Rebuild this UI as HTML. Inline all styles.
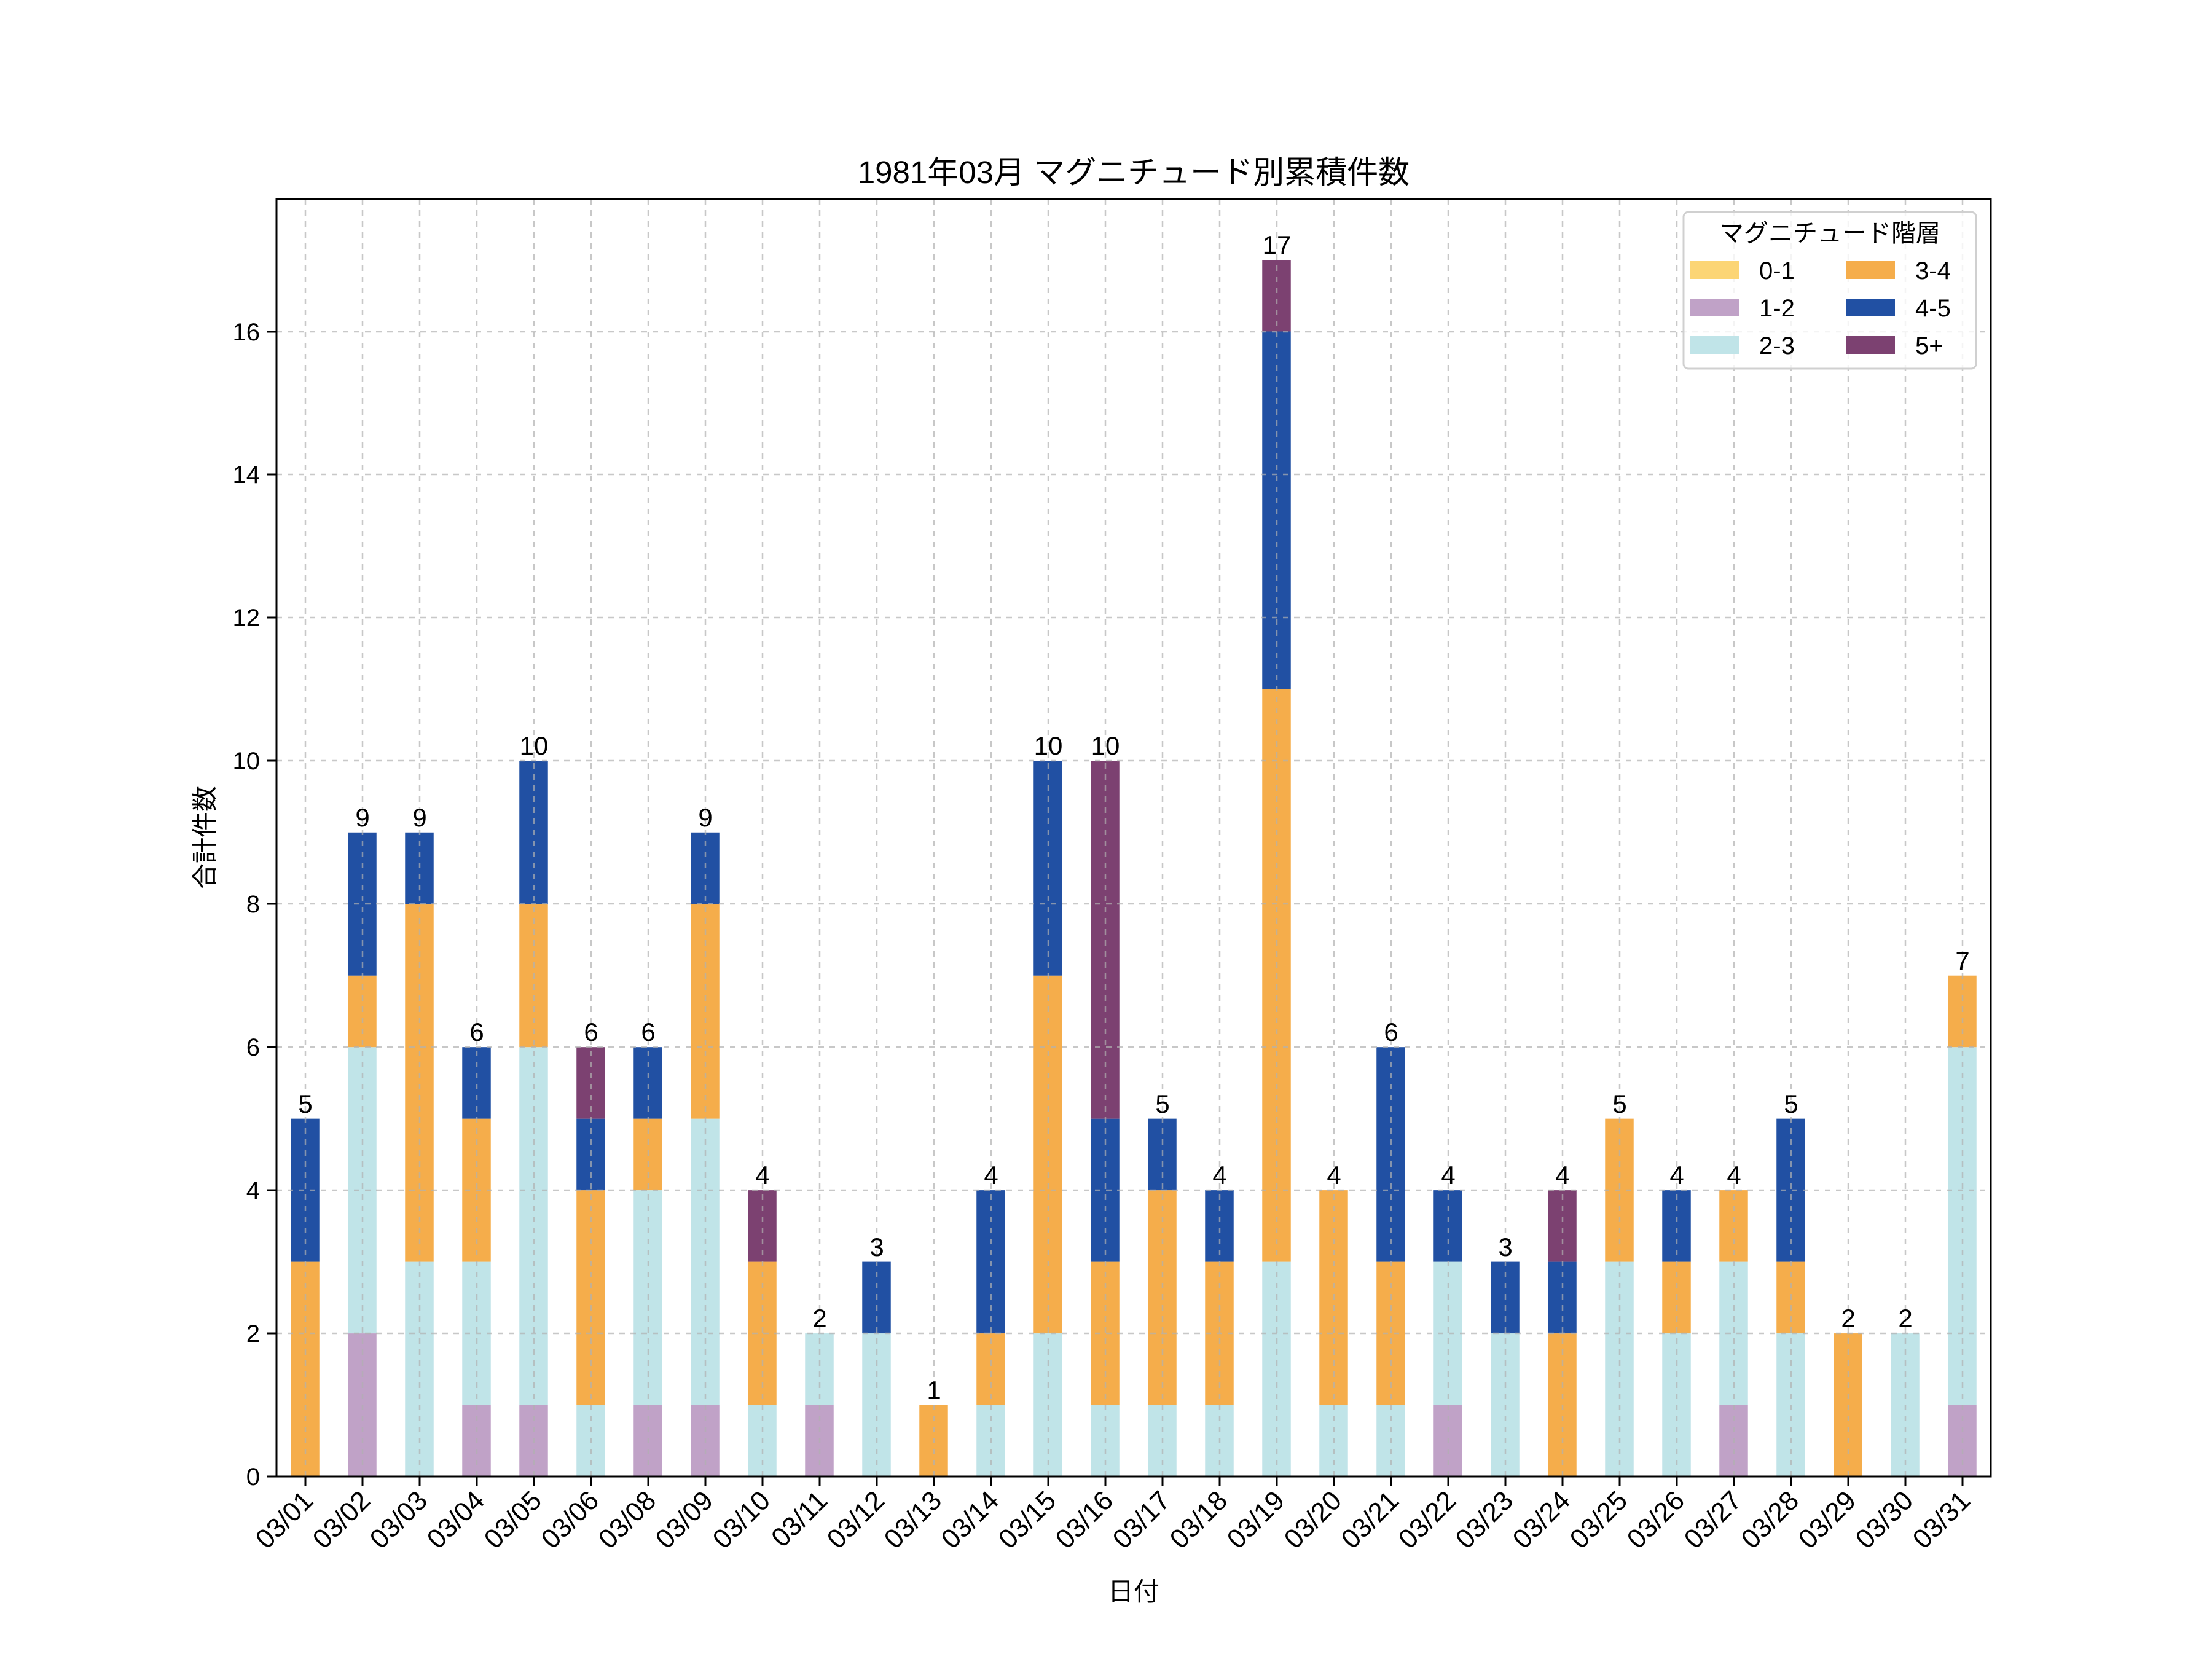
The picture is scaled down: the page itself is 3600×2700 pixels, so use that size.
<!DOCTYPE html>
<html><head><meta charset="utf-8"><style>
html,body{margin:0;padding:0;background:#fff}
svg{display:block}
text{font-family:"Liberation Sans","Noto Sans CJK JP",sans-serif;fill:#000}
</style></head><body>
<svg width="3600" height="2700" viewBox="0 0 3600 2700" xmlns="http://www.w3.org/2000/svg">
<rect width="3600" height="2700" fill="#fff"/>
<g transform="translate(450,2403) scale(93,-116.47)">
<rect x="0.25" y="0" width="0.5" height="3" fill="#F5AD4B"/><rect x="0.25" y="3" width="0.5" height="2" fill="#2150A3"/>
<rect x="1.25" y="0" width="0.5" height="2" fill="#C0A2C7"/><rect x="1.25" y="2" width="0.5" height="4" fill="#C0E4E8"/><rect x="1.25" y="6" width="0.5" height="1" fill="#F5AD4B"/><rect x="1.25" y="7" width="0.5" height="2" fill="#2150A3"/>
<rect x="2.25" y="0" width="0.5" height="3" fill="#C0E4E8"/><rect x="2.25" y="3" width="0.5" height="5" fill="#F5AD4B"/><rect x="2.25" y="8" width="0.5" height="1" fill="#2150A3"/>
<rect x="3.25" y="0" width="0.5" height="1" fill="#C0A2C7"/><rect x="3.25" y="1" width="0.5" height="2" fill="#C0E4E8"/><rect x="3.25" y="3" width="0.5" height="2" fill="#F5AD4B"/><rect x="3.25" y="5" width="0.5" height="1" fill="#2150A3"/>
<rect x="4.25" y="0" width="0.5" height="1" fill="#C0A2C7"/><rect x="4.25" y="1" width="0.5" height="5" fill="#C0E4E8"/><rect x="4.25" y="6" width="0.5" height="2" fill="#F5AD4B"/><rect x="4.25" y="8" width="0.5" height="2" fill="#2150A3"/>
<rect x="5.25" y="0" width="0.5" height="1" fill="#C0E4E8"/><rect x="5.25" y="1" width="0.5" height="3" fill="#F5AD4B"/><rect x="5.25" y="4" width="0.5" height="1" fill="#2150A3"/><rect x="5.25" y="5" width="0.5" height="1" fill="#7C4171"/>
<rect x="6.25" y="0" width="0.5" height="1" fill="#C0A2C7"/><rect x="6.25" y="1" width="0.5" height="3" fill="#C0E4E8"/><rect x="6.25" y="4" width="0.5" height="1" fill="#F5AD4B"/><rect x="6.25" y="5" width="0.5" height="1" fill="#2150A3"/>
<rect x="7.25" y="0" width="0.5" height="1" fill="#C0A2C7"/><rect x="7.25" y="1" width="0.5" height="4" fill="#C0E4E8"/><rect x="7.25" y="5" width="0.5" height="3" fill="#F5AD4B"/><rect x="7.25" y="8" width="0.5" height="1" fill="#2150A3"/>
<rect x="8.25" y="0" width="0.5" height="1" fill="#C0E4E8"/><rect x="8.25" y="1" width="0.5" height="2" fill="#F5AD4B"/><rect x="8.25" y="3" width="0.5" height="1" fill="#7C4171"/>
<rect x="9.25" y="0" width="0.5" height="1" fill="#C0A2C7"/><rect x="9.25" y="1" width="0.5" height="1" fill="#C0E4E8"/>
<rect x="10.25" y="0" width="0.5" height="2" fill="#C0E4E8"/><rect x="10.25" y="2" width="0.5" height="1" fill="#2150A3"/>
<rect x="11.25" y="0" width="0.5" height="1" fill="#F5AD4B"/>
<rect x="12.25" y="0" width="0.5" height="1" fill="#C0E4E8"/><rect x="12.25" y="1" width="0.5" height="1" fill="#F5AD4B"/><rect x="12.25" y="2" width="0.5" height="2" fill="#2150A3"/>
<rect x="13.25" y="0" width="0.5" height="2" fill="#C0E4E8"/><rect x="13.25" y="2" width="0.5" height="5" fill="#F5AD4B"/><rect x="13.25" y="7" width="0.5" height="3" fill="#2150A3"/>
<rect x="14.25" y="0" width="0.5" height="1" fill="#C0E4E8"/><rect x="14.25" y="1" width="0.5" height="2" fill="#F5AD4B"/><rect x="14.25" y="3" width="0.5" height="2" fill="#2150A3"/><rect x="14.25" y="5" width="0.5" height="5" fill="#7C4171"/>
<rect x="15.25" y="0" width="0.5" height="1" fill="#C0E4E8"/><rect x="15.25" y="1" width="0.5" height="3" fill="#F5AD4B"/><rect x="15.25" y="4" width="0.5" height="1" fill="#2150A3"/>
<rect x="16.25" y="0" width="0.5" height="1" fill="#C0E4E8"/><rect x="16.25" y="1" width="0.5" height="2" fill="#F5AD4B"/><rect x="16.25" y="3" width="0.5" height="1" fill="#2150A3"/>
<rect x="17.25" y="0" width="0.5" height="3" fill="#C0E4E8"/><rect x="17.25" y="3" width="0.5" height="8" fill="#F5AD4B"/><rect x="17.25" y="11" width="0.5" height="5" fill="#2150A3"/><rect x="17.25" y="16" width="0.5" height="1" fill="#7C4171"/>
<rect x="18.25" y="0" width="0.5" height="1" fill="#C0E4E8"/><rect x="18.25" y="1" width="0.5" height="3" fill="#F5AD4B"/>
<rect x="19.25" y="0" width="0.5" height="1" fill="#C0E4E8"/><rect x="19.25" y="1" width="0.5" height="2" fill="#F5AD4B"/><rect x="19.25" y="3" width="0.5" height="3" fill="#2150A3"/>
<rect x="20.25" y="0" width="0.5" height="1" fill="#C0A2C7"/><rect x="20.25" y="1" width="0.5" height="2" fill="#C0E4E8"/><rect x="20.25" y="3" width="0.5" height="1" fill="#2150A3"/>
<rect x="21.25" y="0" width="0.5" height="2" fill="#C0E4E8"/><rect x="21.25" y="2" width="0.5" height="1" fill="#2150A3"/>
<rect x="22.25" y="0" width="0.5" height="2" fill="#F5AD4B"/><rect x="22.25" y="2" width="0.5" height="1" fill="#2150A3"/><rect x="22.25" y="3" width="0.5" height="1" fill="#7C4171"/>
<rect x="23.25" y="0" width="0.5" height="3" fill="#C0E4E8"/><rect x="23.25" y="3" width="0.5" height="2" fill="#F5AD4B"/>
<rect x="24.25" y="0" width="0.5" height="2" fill="#C0E4E8"/><rect x="24.25" y="2" width="0.5" height="1" fill="#F5AD4B"/><rect x="24.25" y="3" width="0.5" height="1" fill="#2150A3"/>
<rect x="25.25" y="0" width="0.5" height="1" fill="#C0A2C7"/><rect x="25.25" y="1" width="0.5" height="2" fill="#C0E4E8"/><rect x="25.25" y="3" width="0.5" height="1" fill="#F5AD4B"/>
<rect x="26.25" y="0" width="0.5" height="2" fill="#C0E4E8"/><rect x="26.25" y="2" width="0.5" height="1" fill="#F5AD4B"/><rect x="26.25" y="3" width="0.5" height="2" fill="#2150A3"/>
<rect x="27.25" y="0" width="0.5" height="2" fill="#F5AD4B"/>
<rect x="28.25" y="0" width="0.5" height="2" fill="#C0E4E8"/>
<rect x="29.25" y="0" width="0.5" height="1" fill="#C0A2C7"/><rect x="29.25" y="1" width="0.5" height="5" fill="#C0E4E8"/><rect x="29.25" y="6" width="0.5" height="1" fill="#F5AD4B"/>
</g>
<g stroke="#b0b0b0" stroke-opacity="0.7" stroke-width="2.5" stroke-dasharray="9,9" fill="none">
<path d="M497 324V2403M590 324V2403M683 324V2403M776 324V2403M869 324V2403M962 324V2403M1055 324V2403M1148 324V2403M1241 324V2403M1334 324V2403M1427 324V2403M1520 324V2403M1613 324V2403M1706 324V2403M1799 324V2403M1892 324V2403M1985 324V2403M2078 324V2403M2171 324V2403M2264 324V2403M2357 324V2403M2450 324V2403M2543 324V2403M2636 324V2403M2729 324V2403M2822 324V2403M2915 324V2403M3008 324V2403M3101 324V2403M3194 324V2403"/>
<path d="M450 2403H3240M450 2170H3240M450 1937H3240M450 1704H3240M450 1471H3240M450 1238H3240M450 1005H3240M450 772H3240M450 540H3240"/>
</g>
<rect x="450" y="324" width="2790" height="2079" fill="none" stroke="#000" stroke-width="3"/>
<g stroke="#000" stroke-width="3">
<path d="M497 2403v15M590 2403v15M683 2403v15M776 2403v15M869 2403v15M962 2403v15M1055 2403v15M1148 2403v15M1241 2403v15M1334 2403v15M1427 2403v15M1520 2403v15M1613 2403v15M1706 2403v15M1799 2403v15M1892 2403v15M1985 2403v15M2078 2403v15M2171 2403v15M2264 2403v15M2357 2403v15M2450 2403v15M2543 2403v15M2636 2403v15M2729 2403v15M2822 2403v15M2915 2403v15M3008 2403v15M3101 2403v15M3194 2403v15"/>
<path d="M450 2403h-15M450 2170h-15M450 1937h-15M450 1704h-15M450 1471h-15M450 1238h-15M450 1005h-15M450 772h-15M450 540h-15"/>
</g>
<g font-size="40" text-anchor="end">
<text x="423" y="2417">0</text><text x="423" y="2184">2</text><text x="423" y="1951">4</text><text x="423" y="1718">6</text><text x="423" y="1485">8</text><text x="423" y="1252">10</text><text x="423" y="1019">12</text><text x="423" y="786">14</text><text x="423" y="554">16</text>
</g>
<g font-size="44" text-anchor="end">
<text transform="translate(512,2445) rotate(-45)">03/01</text>
<text transform="translate(605,2445) rotate(-45)">03/02</text>
<text transform="translate(698,2445) rotate(-45)">03/03</text>
<text transform="translate(791,2445) rotate(-45)">03/04</text>
<text transform="translate(884,2445) rotate(-45)">03/05</text>
<text transform="translate(977,2445) rotate(-45)">03/06</text>
<text transform="translate(1070,2445) rotate(-45)">03/08</text>
<text transform="translate(1163,2445) rotate(-45)">03/09</text>
<text transform="translate(1256,2445) rotate(-45)">03/10</text>
<text transform="translate(1349,2445) rotate(-45)">03/11</text>
<text transform="translate(1442,2445) rotate(-45)">03/12</text>
<text transform="translate(1535,2445) rotate(-45)">03/13</text>
<text transform="translate(1628,2445) rotate(-45)">03/14</text>
<text transform="translate(1721,2445) rotate(-45)">03/15</text>
<text transform="translate(1814,2445) rotate(-45)">03/16</text>
<text transform="translate(1907,2445) rotate(-45)">03/17</text>
<text transform="translate(2000,2445) rotate(-45)">03/18</text>
<text transform="translate(2093,2445) rotate(-45)">03/19</text>
<text transform="translate(2186,2445) rotate(-45)">03/20</text>
<text transform="translate(2279,2445) rotate(-45)">03/21</text>
<text transform="translate(2372,2445) rotate(-45)">03/22</text>
<text transform="translate(2465,2445) rotate(-45)">03/23</text>
<text transform="translate(2558,2445) rotate(-45)">03/24</text>
<text transform="translate(2651,2445) rotate(-45)">03/25</text>
<text transform="translate(2744,2445) rotate(-45)">03/26</text>
<text transform="translate(2837,2445) rotate(-45)">03/27</text>
<text transform="translate(2930,2445) rotate(-45)">03/28</text>
<text transform="translate(3023,2445) rotate(-45)">03/29</text>
<text transform="translate(3116,2445) rotate(-45)">03/30</text>
<text transform="translate(3209,2445) rotate(-45)">03/31</text>
</g>
<g font-size="42" text-anchor="middle">
<text x="497" y="1811">5</text><text x="590" y="1345">9</text><text x="683" y="1345">9</text><text x="776" y="1694">6</text><text x="869" y="1228">10</text><text x="962" y="1694">6</text><text x="1055" y="1694">6</text><text x="1148" y="1345">9</text><text x="1241" y="1927">4</text><text x="1334" y="2160">2</text><text x="1427" y="2044">3</text><text x="1520" y="2277">1</text><text x="1613" y="1927">4</text><text x="1706" y="1228">10</text><text x="1799" y="1228">10</text><text x="1892" y="1811">5</text><text x="1985" y="1927">4</text><text x="2078" y="413">17</text><text x="2171" y="1927">4</text><text x="2264" y="1694">6</text><text x="2357" y="1927">4</text><text x="2450" y="2044">3</text><text x="2543" y="1927">4</text><text x="2636" y="1811">5</text><text x="2729" y="1927">4</text><text x="2822" y="1927">4</text><text x="2915" y="1811">5</text><text x="3008" y="2160">2</text><text x="3101" y="2160">2</text><text x="3194" y="1578">7</text>
</g>
<text x="1845" y="298" font-size="51" text-anchor="middle">1981年03月 マグニチュード別累積件数</text>
<text transform="translate(348,1363) rotate(-90)" font-size="42" text-anchor="middle">合計件数</text>
<text x="1845" y="2605" font-size="42" text-anchor="middle">日付</text>
<rect x="2740" y="345" width="476" height="255" rx="8" fill="#fff" fill-opacity="0.8" stroke="#d0d0d0" stroke-width="3"/>
<text x="2978" y="393" font-size="40" text-anchor="middle">マグニチュード階層</text>
<g>
<rect x="2751" y="425" width="79" height="29" fill="#FCD575"/>
<rect x="2751" y="486" width="79" height="29" fill="#C0A2C7"/>
<rect x="2751" y="547" width="79" height="29" fill="#C0E4E8"/>
<rect x="3005" y="425" width="79" height="29" fill="#F5AD4B"/>
<rect x="3005" y="486" width="79" height="29" fill="#2150A3"/>
<rect x="3005" y="547" width="79" height="29" fill="#7C4171"/>
</g>
<g font-size="40">
<text x="2863" y="454">0-1</text><text x="2863" y="515">1-2</text><text x="2863" y="576">2-3</text>
<text x="3117" y="454">3-4</text><text x="3117" y="515">4-5</text><text x="3117" y="576">5+</text>
</g>
</svg>
</body></html>
